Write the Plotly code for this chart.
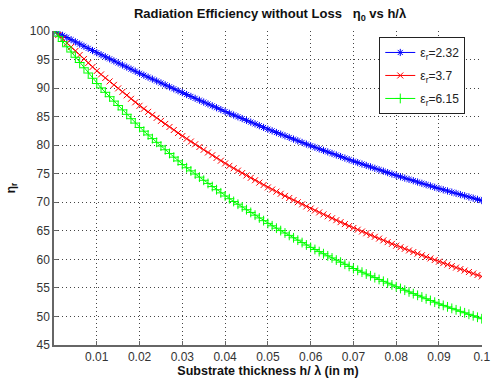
import plotly.graph_objects as go

h_lambda = [i / 1000 for i in range(101)]

eta_232 = [100.00,
    99.62, 99.24, 98.86, 98.48, 98.10, 97.72, 97.34, 96.96, 96.58, 96.20,
    95.84, 95.48, 95.12, 94.76, 94.40, 94.04, 93.68, 93.32, 92.96, 92.60,
    92.26, 91.92, 91.58, 91.24, 90.90, 90.56, 90.22, 89.88, 89.54, 89.20,
    88.87, 88.54, 88.21, 87.88, 87.55, 87.22, 86.89, 86.56, 86.23, 85.90,
    85.59, 85.28, 84.97, 84.66, 84.35, 84.04, 83.73, 83.42, 83.11, 82.80,
    82.51, 82.22, 81.93, 81.64, 81.35, 81.06, 80.77, 80.48, 80.19, 79.90,
    79.63, 79.36, 79.09, 78.82, 78.55, 78.28, 78.01, 77.74, 77.47, 77.20,
    76.95, 76.70, 76.45, 76.20, 75.95, 75.70, 75.45, 75.20, 74.95, 74.70,
    74.47, 74.24, 74.01, 73.78, 73.55, 73.32, 73.09, 72.86, 72.63, 72.40,
    72.19, 71.98, 71.77, 71.56, 71.35, 71.14, 70.93, 70.72, 70.51, 70.30]

eta_37 = [100.00,
    99.30, 98.60, 97.90, 97.20, 96.50, 95.80, 95.10, 94.40, 93.70, 93.00,
    92.39, 91.78, 91.17, 90.56, 89.95, 89.34, 88.73, 88.12, 87.51, 86.90,
    86.37, 85.84, 85.31, 84.78, 84.25, 83.72, 83.19, 82.66, 82.13, 81.60,
    81.12, 80.64, 80.16, 79.68, 79.20, 78.72, 78.24, 77.76, 77.28, 76.80,
    76.38, 75.96, 75.54, 75.12, 74.70, 74.28, 73.86, 73.44, 73.02, 72.60,
    72.23, 71.86, 71.49, 71.12, 70.75, 70.38, 70.01, 69.64, 69.27, 68.90,
    68.56, 68.22, 67.88, 67.54, 67.20, 66.86, 66.52, 66.18, 65.84, 65.50,
    65.19, 64.88, 64.57, 64.26, 63.95, 63.64, 63.33, 63.02, 62.71, 62.40,
    62.12, 61.84, 61.56, 61.28, 61.00, 60.72, 60.44, 60.16, 59.88, 59.60,
    59.34, 59.08, 58.82, 58.56, 58.30, 58.04, 57.78, 57.52, 57.26, 57.00]

eta_615 = [100.00,
    99.08, 98.16, 97.24, 96.32, 95.40, 94.48, 93.56, 92.64, 91.72, 90.80,
    90.03, 89.26, 88.49, 87.72, 86.95, 86.18, 85.41, 84.64, 83.87, 83.10,
    82.45, 81.80, 81.15, 80.50, 79.85, 79.20, 78.55, 77.90, 77.25, 76.60,
    76.05, 75.50, 74.95, 74.40, 73.85, 73.30, 72.75, 72.20, 71.65, 71.10,
    70.62, 70.14, 69.66, 69.18, 68.70, 68.22, 67.74, 67.26, 66.78, 66.30,
    65.88, 65.46, 65.04, 64.62, 64.20, 63.78, 63.36, 62.94, 62.52, 62.10,
    61.73, 61.36, 60.99, 60.62, 60.25, 59.88, 59.51, 59.14, 58.77, 58.40,
    58.08, 57.76, 57.44, 57.12, 56.80, 56.48, 56.16, 55.84, 55.52, 55.20,
    54.90, 54.60, 54.30, 54.00, 53.70, 53.40, 53.10, 52.80, 52.50, 52.20,
    51.94, 51.68, 51.42, 51.16, 50.90, 50.64, 50.38, 50.12, 49.86, 49.60]

series_names = ["ε<sub>r</sub>=2.32", "ε<sub>r</sub>=3.7", "ε<sub>r</sub>=6.15"]
x_ticks = [0.01, 0.02, 0.03, 0.04, 0.05, 0.06, 0.07, 0.08, 0.09, 0.1]
x_tick_text = ["0.01", "0.02", "0.03", "0.04", "0.05", "0.06", "0.07", "0.08", "0.09", "0.1"]
y_ticks = [45, 50, 55, 60, 65, 70, 75, 80, 85, 90, 95, 100]

styles = [
    ("#0000ff", "asterisk-open", 6),
    ("#ff0000", "x-thin-open", 6),
    ("#00ff00", "cross-thin-open", 7),
]

fig = go.Figure()
for i, (name, ys, (col, sym, sz)) in enumerate(zip(series_names, [eta_232, eta_37, eta_615], styles)):
    fig.add_trace(go.Scatter(
        x=h_lambda, y=ys, name=name, mode="lines+markers", legendgroup=f"g{i}",
        line=dict(color=col, width=1),
        marker=dict(symbol=sym, size=sz, color=col, line=dict(color=col, width=1)),
    ))

font_family = "Liberation Sans, Arial, sans-serif"
grid_dash = "1px,3px"
fig.update_layout(
    width=491, height=383,
    margin=dict(l=54, r=9, t=31, b=38, autoexpand=False),
    paper_bgcolor="white", plot_bgcolor="white",
    font=dict(family=font_family, size=12, color="#333333"),
    title=dict(text="<b>Radiation Efficiency without Loss   η<sub>0</sub> vs h/λ</b>",
               x=0.55, xanchor="center", y=0.965, yanchor="middle",
               font=dict(size=13, color="#111111")),
    legend=dict(x=0.76, y=0.981, xanchor="left", yanchor="top",
                bgcolor="white", bordercolor="#222222", borderwidth=1,
                font=dict(size=12, color="#222222"), tracegroupgap=4),
    showlegend=True,
)
fig.update_xaxes(
    range=[0, 0.10006], tickvals=x_ticks, ticktext=x_tick_text,
    ticklabeloverflow="allow", automargin=False,
    showline=True, linecolor="#666666", linewidth=1.5, mirror=False,
    ticks="inside", ticklen=4, tickcolor="#666666",
    showgrid=True, gridcolor="#444444", griddash=grid_dash, gridwidth=1,
    zeroline=False,
    title=dict(text="<b>Substrate thickness h/ λ (in m)</b>", standoff=3,
               font=dict(size=12.5, color="#111111")),
)
fig.update_yaxes(
    range=[45, 100], tickvals=y_ticks, automargin=False,
    showline=True, linecolor="#666666", linewidth=1.5, mirror=False,
    ticks="inside", ticklen=4, tickcolor="#666666",
    showgrid=True, gridcolor="#444444", griddash=grid_dash, gridwidth=1,
    zeroline=False,
    title=dict(text="<b>η<sub>r</sub></b>", standoff=12,
               font=dict(size=12, color="#111111")),
)

fig.write_html("out.html")
